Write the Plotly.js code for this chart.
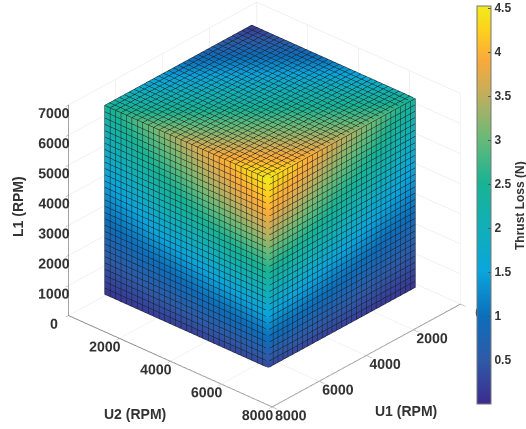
<!DOCTYPE html>
<html><head><meta charset="utf-8">
<script src="https://cdn.plot.ly/plotly-3.0.1.min.js"></script>
<style>html,body{margin:0;padding:0;background:#fff}#c{width:526px;height:429px}</style></head>
<body><div id="c"></div>
<script>
// Sample positions (RPM)
const u1Samples = [1050,2090,3130,4170,5210,6250,7300];
const u2Samples = [770,1840,2910,3980,5050,6120,7200];
const l1Samples = [700,1750,2800,3850,4900,5950,6980];

// Thrust loss read at those positions (N). Rows follow the first named axis.
// Top face, L1 = max: rows U1 low->high, columns U2 low->high
const topFace = [
 [0.10,0.45,0.80,1.15,1.50,1.95,2.40],
 [0.45,0.85,1.20,1.55,1.95,2.35,2.75],
 [0.80,1.20,1.55,1.95,2.30,2.70,3.10],
 [1.15,1.55,1.95,2.25,2.70,3.05,3.45],
 [1.50,1.90,2.30,2.70,3.05,3.40,3.80],
 [1.95,2.30,2.70,3.05,3.40,3.80,4.15],
 [2.40,2.75,3.15,3.50,3.85,4.20,4.50]];
// Left face, U1 = max: rows L1 low->high, columns U2 low->high
const leftFace = [
 [0.10,0.15,0.20,0.22,0.25,0.28,0.30],
 [0.45,0.55,0.65,0.75,0.85,0.95,1.05],
 [0.85,1.00,1.15,1.30,1.45,1.60,1.75],
 [1.25,1.45,1.70,1.90,2.10,2.30,2.50],
 [1.60,1.90,2.20,2.50,2.80,3.05,3.30],
 [2.00,2.35,2.70,3.05,3.40,3.70,4.00],
 [2.40,2.80,3.15,3.50,3.85,4.20,4.50]];
// Right face, U2 = max: rows L1 low->high, columns U1 low->high
const rightFace = [
 [0.10,0.14,0.18,0.22,0.25,0.28,0.30],
 [0.42,0.52,0.62,0.74,0.84,0.95,1.05],
 [0.80,0.95,1.12,1.28,1.45,1.60,1.75],
 [1.20,1.42,1.65,1.88,2.10,2.30,2.50],
 [1.55,1.85,2.15,2.45,2.75,3.05,3.30],
 [1.95,2.30,2.65,3.00,3.35,3.70,4.00],
 [2.40,2.75,3.15,3.50,3.85,4.20,4.50]];

const colorTicks = [0.5,1,1.5,2,2.5,3,3.5,4,4.5];
const u1Ticks = [0,2000,4000,6000,8000];
const u2Ticks = [0,2000,4000,6000,8000];
const l1Ticks = [0,1000,2000,3000,4000,5000,6000,7000];
const meshCells = 30;

const parula = [[0,'#3b2c8f'],[0.11,'#2e5aa8'],[0.222,'#0c6fbc'],[0.333,'#0aa5dc'],[0.444,'#10afb8'],
 [0.556,'#18b394'],[0.667,'#68ba78'],[0.778,'#c2ae5c'],[0.867,'#fbaa3a'],[0.94,'#fdd11c'],[1,'#f0ec1c']];

const u1Max=u1Samples[6],u1Min=u1Samples[0],u2Max=u2Samples[6],u2Min=u2Samples[0],l1Max=l1Samples[6],l1Min=l1Samples[0];
const step=(lo,hi)=>(hi-lo)/meshCells;
const line=(lo,hi)=>({show:true,start:lo,end:hi,size:step(lo,hi),color:'#1a1a1a',width:1,highlight:false});
const off={show:false,highlight:false};
const base={type:'surface',cmin:0,cmax:4.525,colorscale:parula,showscale:false,hoverinfo:'skip',
 lighting:{ambient:1,diffuse:0,specular:0,roughness:1,fresnel:0},opacity:1};

const topTrace=Object.assign({},base,{
 x:u1Samples.map(a=>u2Samples.map(()=>a)),
 y:u1Samples.map(()=>u2Samples.slice()),
 z:u1Samples.map(()=>u2Samples.map(()=>l1Max)),
 surfacecolor:topFace,
 contours:{x:line(u1Min,u1Max),y:line(u2Min,u2Max),z:off}});
const leftTrace=Object.assign({},base,{
 x:l1Samples.map(()=>u2Samples.map(()=>u1Max)),
 y:l1Samples.map(()=>u2Samples.slice()),
 z:l1Samples.map(l=>u2Samples.map(()=>l)),
 surfacecolor:leftFace,
 contours:{x:off,y:line(u2Min,u2Max),z:line(l1Min,l1Max)}});
const rightTrace=Object.assign({},base,{
 x:l1Samples.map(()=>u1Samples.slice()),
 y:l1Samples.map(()=>u1Samples.map(()=>u2Max)),
 z:l1Samples.map(l=>u1Samples.map(()=>l)),
 surfacecolor:rightFace,
 showscale:true,
 colorbar:{x:0.907,xanchor:'left',xref:'paper',y:0.522,yanchor:'middle',yref:'paper',lenmode:'pixels',len:398,
  thicknessmode:'pixels',thickness:14,outlinecolor:'#777',outlinewidth:1,ticks:'inside',ticklen:3,tickcolor:'#555',
  tickvals:colorTicks,ticktext:colorTicks.map(String),tickfont:{family:'Liberation Sans',size:12,color:'#333',weight:'bold'},xpad:0,ypad:0},
 contours:{x:line(u1Min,u1Max),y:off,z:line(l1Min,l1Max)}});

const ax=(ticks,range,len)=>({title:{text:''},
 range:range,tickmode:'array',tickvals:ticks,ticktext:ticks.map(String),tickangle:0,
 tickfont:{family:'Liberation Sans',size:13,color:'#333',weight:'bold'},
 showgrid:true,gridcolor:'#e4e4e4',gridwidth:1,showline:true,linecolor:'#8a8a8a',linewidth:2,zeroline:false,
 showbackground:false,showspikes:false,ticks:'outside',ticklen:len,tickcolor:'#8a8a8a'});

const titleFont={family:'Liberation Sans',size:14,color:'#333'};
const note=(text,px,py,angle,font)=>({text:'<b>'+text+'</b>',xref:'paper',yref:'paper',x:px/526,y:1-py/429,xanchor:'center',yanchor:'middle',
  textangle:angle,showarrow:false,font:font||titleFont});
const layout={width:526,height:429,margin:{l:0,r:0,t:0,b:0},paper_bgcolor:'#fff',showlegend:false,
 scene:{domain:{x:[0.006,1],y:[0,1]},
  aspectmode:'manual',aspectratio:{x:1.307,y:1.281,z:1.13},
  camera:{projection:{type:'orthographic'},up:{x:0,y:0,z:1},center:{x:0,y:0,z:-0.0535},eye:{x:0.995,y:0.902,z:0.712}},
  xaxis:ax(u1Ticks,[0,8000],4),
  yaxis:ax(u2Ticks,[0,8000],7),
  zaxis:ax(l1Ticks,[0,7000],3)},
 annotations:[note('Thrust Loss (N)',520,206,-90,{family:'Liberation Sans',size:12,color:'#333'}),
  note('U2 (RPM)',135,414,0),note('U1 (RPM)',406,411,0),note('L1 (RPM)',18,207,-90)]};
Plotly.newPlot('c',[topTrace,leftTrace,rightTrace],layout,{displayModeBar:false});
</script></body></html>
